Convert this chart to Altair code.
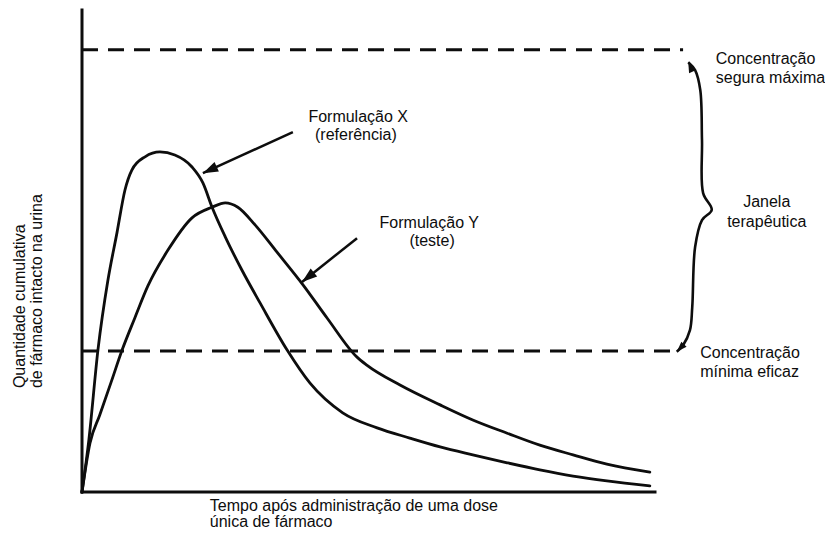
import math
import altair as alt
import pandas as pd

# ---------------- data ----------------
# Formulação X (referência)
time_x = [0, 1.2, 2.8, 4.5, 6.1, 7.5, 8.7, 11.0, 13.6, 16.2, 19.2, 21.1, 22.7, 25.0,
          27.9, 31.1, 35.8, 39.8, 45.5, 51.5, 57.2, 62.5, 68.2, 74.2, 79.9, 85.7, 91.6, 99.1]
amount_x = [0, 11.8, 32.3, 47.7, 58.6, 68.3, 72.8, 75.8, 76.9, 76.2, 73.5, 69.9, 64.4, 57.7,
            50.2, 42.7, 32.1, 24.6, 17.9, 14.5, 12.2, 10.2, 8.4, 6.6, 5.0, 3.6, 2.5, 1.4]

# Formulação Y (teste)
time_y = [0, 1.4, 3.1, 5.1, 7.0, 9.2, 11.5, 15.0, 19.2, 22.7, 25.0, 27.2, 30.2, 34.0,
          38.6, 42.8, 48.0, 49.7, 55.5, 62.5, 68.2, 74.2, 79.9, 85.7, 91.6, 99.1]
amount_y = [0, 11.1, 17.4, 24.9, 32.1, 39.3, 46.6, 54.7, 62.0, 64.4, 65.4, 64.4, 60.4, 54.3,
            46.8, 39.3, 30.5, 28.7, 24.2, 19.7, 16.3, 13.3, 10.6, 8.4, 6.3, 4.5]

# reference levels
level_names = ["Concentração segura máxima", "Concentração mínima eficaz"]
level_values = [100.0, 31.9]
level_end = [104.9, 103.5]

# axes extent
axis_t_end = 100
axis_c_end = 109

# annotation arrows (tail -> tip)
arrow_tail_t = [36.8, 48.0]
arrow_tail_c = [81.4, 57.4]
arrow_tip_t = [21.1, 38.4]
arrow_tip_c = [72.1, 47.5]

# curly brace of the therapeutic window
brace_t = [105.8, 107.0, 107.9, 108.2, 108.4, 109.9, 108.2, 107.0, 106.5, 106.1, 104.9, 103.8]
brace_c = [97.2, 95.4, 90.9, 79.6, 67.6, 63.8, 61.5, 55.4, 41.8, 36.6, 33.2, 31.7]

# text labels
center_text = ["Formulação X", "(referência)", "Formulação Y", "(teste)", "Janela", "terapêutica"]
center_t = [48.2, 47.8, 60.6, 61.1, 119.5, 119.5]
center_c = [84.8, 80.7, 60.8, 56.8, 65.6, 61.1]

left_text = ["Concentração", "segura máxima", "Concentração", "mínima eficaz",
             "Tempo após administração de uma dose", "única de fármaco"]
left_t = [110.6, 110.6, 107.9, 107.9, 22.3, 22.3]
left_c = [97.9, 93.6, 31.4, 27.1, -3.17, -6.78]

ytitle_text = ["Quantidade cumulativa", "de fármaco intacto na urina"]
ytitle_t = [-10.8, -7.9]
ytitle_c = [23.5, 23.5]

# ---------------- layout ----------------
W, H = 573, 482
X_MAX, Y_MAX = 100, 109
kx, ky = W / X_MAX, H / Y_MAX
INK = "#0d0d0d"
FONT = "Liberation Sans"
FS = 16


def heading(t0, c0, t1, c1):
    dx = (t1 - t0) * kx
    dy = -(c1 - c0) * ky
    return math.degrees(math.atan2(dx, -dy)) % 360


curves = pd.DataFrame(
    {"t": time_x + time_y,
     "c": amount_x + amount_y,
     "serie": ["X"] * len(time_x) + ["Y"] * len(time_y)}
)
axes_df = pd.DataFrame({"t0": [0, 0], "t1": [0, axis_t_end], "c0": [0, 0], "c1": [axis_c_end, 0]})
levels = pd.DataFrame({"nome": level_names, "c": level_values, "t0": [0, 0], "t1": level_end})
arrows = pd.DataFrame({"t0": arrow_tail_t, "c0": arrow_tail_c, "t1": arrow_tip_t, "c1": arrow_tip_c})

heads = pd.DataFrame({
    "t": arrow_tip_t + [brace_t[0], brace_t[-1]],
    "c": arrow_tip_c + [brace_c[0], brace_c[-1]],
    "angle": [heading(a, b, c, d) for a, b, c, d in zip(arrow_tail_t, arrow_tail_c, arrow_tip_t, arrow_tip_c)]
    + [heading(brace_t[2], brace_c[2], brace_t[0], brace_c[0]),
       heading(brace_t[-2], brace_c[-2], brace_t[-1], brace_c[-1])],
    "size": [360, 360, 170, 170],
})
brace = pd.DataFrame({"t": brace_t, "c": brace_c, "i": list(range(len(brace_t)))})
ctext = pd.DataFrame({"t": center_t, "c": center_c, "txt": center_text})
ltext = pd.DataFrame({"t": left_t, "c": left_c, "txt": left_text})
ytext = pd.DataFrame({"t": ytitle_t, "c": ytitle_c, "txt": ytitle_text})

xs = alt.Scale(domain=[0, X_MAX], nice=False, zero=False)
ys = alt.Scale(domain=[0, Y_MAX], nice=False, zero=False)


def xenc(f):
    return alt.X(f, type="quantitative", scale=xs, axis=None)


def yenc(f):
    return alt.Y(f, type="quantitative", scale=ys, axis=None)


curve_layer = alt.Chart(curves).mark_line(
    interpolate="monotone", strokeWidth=2.8, color=INK, strokeCap="round"
).encode(x=xenc("t"), y=yenc("c"), detail="serie:N")

axes_layer = alt.Chart(axes_df).mark_rule(strokeWidth=3, color=INK, strokeCap="square").encode(
    x=xenc("t0"), x2="t1:Q", y=yenc("c0"), y2="c1:Q"
)

level_layer = alt.Chart(levels).mark_rule(
    strokeDash=[16, 10], strokeWidth=3, color=INK
).encode(x=xenc("t0"), x2="t1:Q", y=yenc("c"))

shaft_layer = alt.Chart(arrows).mark_rule(strokeWidth=2.5, color=INK).encode(
    x=xenc("t0"), x2="t1:Q", y=yenc("c0"), y2="c1:Q"
)

head_layer = alt.Chart(heads).mark_point(
    shape="M0,0L-0.55,1.6L0.55,1.6Z", filled=True, color=INK, opacity=1, strokeWidth=0.5
).encode(
    x=xenc("t"), y=yenc("c"),
    angle=alt.Angle("angle:Q", scale=None),
    size=alt.Size("size:Q", scale=None),
)

brace_layer = alt.Chart(brace).mark_line(
    interpolate="catmull-rom", strokeWidth=2.6, color=INK
).encode(x=xenc("t"), y=yenc("c"), order="i:Q")

ctext_layer = alt.Chart(ctext).mark_text(
    font=FONT, fontSize=FS, color=INK, align="center", baseline="middle"
).encode(x=xenc("t"), y=yenc("c"), text="txt:N")

ltext_layer = alt.Chart(ltext).mark_text(
    font=FONT, fontSize=FS, color=INK, align="left", baseline="middle"
).encode(x=xenc("t"), y=yenc("c"), text="txt:N")

ytext_layer = alt.Chart(ytext).mark_text(
    font=FONT, fontSize=FS, color=INK, align="left", baseline="middle", angle=270
).encode(x=xenc("t"), y=yenc("c"), text="txt:N")

chart = alt.layer(
    axes_layer, curve_layer, level_layer, shaft_layer, head_layer, brace_layer,
    ctext_layer, ltext_layer, ytext_layer,
).properties(
    width=W, height=H,
    autosize=alt.AutoSizeParams(type="none"),
    padding={"left": 74, "top": 2, "right": 170, "bottom": 40},
    background="white",
).configure_view(stroke=None)

chart.save("out.html", embed_options={"renderer": "svg", "actions": False})
